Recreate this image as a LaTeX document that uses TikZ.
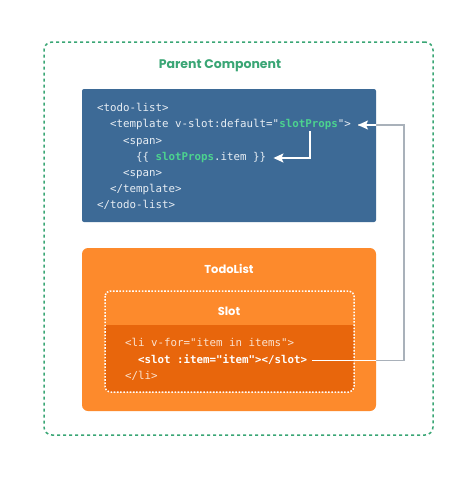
\documentclass[tikz,border=0pt]{standalone}
\usepackage{fontspec}
\setmainfont{Poppins}
\setmonofont{DejaVu Sans Mono}
\usetikzlibrary{arrows.meta}
\definecolor{vgreen}{HTML}{3AA675}
\definecolor{codegreen}{HTML}{4CD38F}
\definecolor{vblue}{HTML}{3D6A96}
\definecolor{vorange}{HTML}{FD8A2C}
\definecolor{vdorange}{HTML}{E8660C}
\definecolor{linkgray}{HTML}{A9B1BA}
\definecolor{codefg}{HTML}{E8EEF4}
\definecolor{slotfg}{HTML}{FBE3D0}
\tikzset{
  panel/.style={inner sep=0pt, outer sep=0pt},
  code/.style={font=\ttfamily\fontsize{10.8}{13}\selectfont, text=codefg, inner sep=0pt, anchor=west, text height=8pt, text depth=2.5pt},
  slotcode/.style={code, text=slotfg},
  title/.style={font=\bfseries\fontsize{11.5}{14}\selectfont, inner sep=0pt},
  link/.style={line width=1.5pt},
  tip/.style={-{Stealth[length=10pt,width=9pt,inset=2pt]}}
}
\begin{document}
\begin{tikzpicture}[x=1pt,y=-1pt]
\useasboundingbox (0,0) rectangle (474,477);
\fill[white] (0,0) rectangle (474,477);

% outer parent box
\node[panel, draw=vgreen, line width=1.5pt, dash pattern=on 3pt off 3pt, rounded corners=8pt,
      minimum width=389pt, minimum height=393pt] (parent) at (238.5,238.5) {};
\node[title, text=vgreen, font=\bfseries\fontsize{12.5}{15}\selectfont] (ptitle) at (220,66) {Parent Component};

% blue code box
\node[panel, fill=vblue, rounded corners=2pt, minimum width=294pt, minimum height=133pt] (blue) at (229,155.5) {};
\node[code] (l1) at (97,109) {<todo-list>};
\node[code] (tmpl) at (110,125) {<template v-slot:default="\textcolor{codegreen}{\bfseries slotProps}">};
\node[code] (l3) at (123,142) {<span>};
\node[code] (item) at (136,158) {\{\{ \textcolor{codegreen}{\bfseries slotProps}.item \}\}};
\node[code] (l5) at (123,174) {<span>};
\node[code] (l6) at (110,190) {</template>};
\node[code] (l7) at (97,206) {</todo-list>};

% orange TodoList box
\node[panel, fill=vorange, rounded corners=6pt, minimum width=294pt, minimum height=163pt] (todo) at (229,329.5) {};
\node[title, text=white] (ttitle) at (229,268.5) {TodoList};

% slot box
\node[panel, minimum width=249pt, minimum height=101pt] (slot) at (229.5,341.5) {};
\begin{scope}
  \clip[rounded corners=5pt] (slot.north west) rectangle (slot.south east);
  \fill[vdorange] (105,325) rectangle (slot.south east);
\end{scope}
\draw[white, line width=1.5pt, dash pattern=on 1.6pt off 1.6pt, rounded corners=5pt] (slot.north west) rectangle (slot.south east);
\node[title, text=white, font=\bfseries\fontsize{11.5}{14}\selectfont] (stitle) at (229,311) {Slot};
\node[slotcode] (li1) at (125,344) {<li v-for="item in items">};
\node[slotcode, text=white, font=\ttfamily\bfseries\fontsize{10.8}{13}\selectfont] (slotl) at (138,360.5) {<slot :item="item"></slot>};
\node[slotcode] (li2) at (125,377) {</li>};

% connector from slot to template
\coordinate (rt) at (404,240);
\draw[link, linkgray] ([xshift=5pt]slotl.east) -- (slotl.east -| rt) -- (tmpl.east -| rt) -- ([xshift=7pt]tmpl.east);
\begin{scope}
  \clip (blue.north west) rectangle (blue.south east);
  \draw[link, white, tip] ([xshift=5pt]slotl.east) -- (slotl.east -| rt) -- (tmpl.east -| rt) -- ([xshift=7pt]tmpl.east);
\end{scope}
\begin{scope}
  \clip (todo.north west) rectangle (todo.south east);
  \draw[link, white] ([xshift=5pt]slotl.east) -- (slotl.east -| rt) -- (tmpl.east -| rt);
\end{scope}

% connector from slotProps to item
\coordinate (sp) at (310,131);
\draw[link, white, tip] (sp) -- (sp |- item.east) -- ([xshift=7pt]item.east);
\end{tikzpicture}
\end{document}
